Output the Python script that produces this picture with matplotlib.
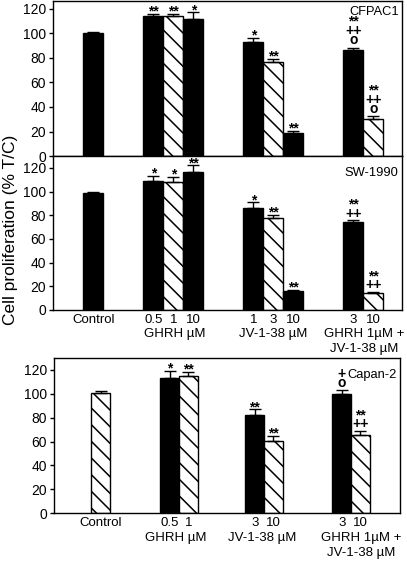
import matplotlib
matplotlib.use('Agg')
import matplotlib.pyplot as plt
import matplotlib.transforms as mtransforms

plt.rcParams['font.family'] = ['Liberation Sans', 'DejaVu Sans']
plt.rcParams['hatch.linewidth'] = 1.1

# ---- data ----
# CFPAC1 (top) and SW-1990 (middle): control, GHRH 0.5/1/10, JV 1/3/10, GHRH 1 + JV 3/10
top_labels = ['Control', '0.5', '1', '10', '1', '3', '10', '3', '10']
top_pos = [0, 3, 4, 5, 8, 9, 10, 13, 14]
top_fill = ['k', 'k', 'h', 'k', 'k', 'h', 'k', 'k', 'h']

cfpac_vals = [100, 114.5, 114, 112, 93, 77, 19, 86.5, 30.5]
cfpac_err = [1.2, 1.5, 1.8, 5.2, 3, 2, 1.5, 2, 2]
cfpac_marks = ['', '**', '**', '*', '*', '**', '**', '**\n++\no', '**\n++\no']

sw_vals = [99, 108.8, 108, 116.6, 86.3, 77.5, 15.7, 74.6, 14.3]
sw_err = [1, 4, 4.5, 5.4, 4.5, 2.8, 1.2, 1.2, 1]
sw_marks = ['', '*', '*', '**', '*', '**', '**', '**\n++', '**\n++']

# Capan-2 (bottom): control, GHRH 0.5/1, JV 3/10, GHRH 1 + JV 3/10
cap_labels = ['Control', '0.5', '1', '3', '10', '3', '10']
cap_pos = [0, 3.7, 4.7, 8.25, 9.25, 12.9, 13.9]
cap_fill = ['h', 'k', 'h', 'k', 'h', 'k', 'h']
cap_vals = [100.4, 113.3, 115, 82.4, 60.3, 99.5, 65.3]
cap_err = [1.8, 5.7, 3.6, 4.5, 4.2, 3.5, 3.9]
cap_marks = ['', '*', '**', '**', '**', '+\no', '**\n++']

group_top = [(4.05, ['GHRH µM']), (9.0, ['JV-1-38 µM']),
             (13.55, ['GHRH 1µM +', 'JV-1-38 µM'])]
group_cap = [(4.0, ['GHRH µM']), (8.65, ['JV-1-38 µM']),
             (13.95, ['GHRH 1µM +', 'JV-1-38 µM'])]

# vertical offset (points) of the mark block, by its lowest symbol
mark_off = {'*': -3.3, '+': -0.3, 'o': 0.4}


def draw_panel(ax, pos, vals, errs, fills, marks, name, ylim, xlim):
    for x, v, e, f, m in zip(pos, vals, errs, fills, marks):
        if f == 'k':
            ax.bar(x, v, width=1.0, color='black', edgecolor='black', linewidth=1)
        else:
            ax.bar(x, v, width=1.0, color='white', edgecolor='black',
                   linewidth=1, hatch='\\\\')
        ax.errorbar(x, v, yerr=[[0], [e]], fmt='none', ecolor='black',
                    elinewidth=1, capsize=4.3, capthick=1)
        if m:
            ax.annotate(m, xy=(x, v + e), xytext=(0, mark_off[m[-1]]),
                        textcoords='offset points', ha='center', va='bottom',
                        fontsize=10, fontweight='bold', linespacing=0.55)
    ax.set_ylim(*ylim)
    ax.set_xlim(*xlim)
    ax.set_yticks([0, 20, 40, 60, 80, 100, 120])
    ax.tick_params(axis='y', direction='out', length=3, width=1, labelsize=10, pad=2)
    ax.tick_params(axis='x', length=0, labelsize=9.5, pad=3)
    for sp in ax.spines.values():
        sp.set_linewidth(1)
    ax.text(0.99, 0.965 if ylim[1] < 128 else 0.93, name, transform=ax.transAxes,
            ha='right', va='top', fontsize=9.3)


def group_labels(ax, groups):
    trans = mtransforms.blended_transform_factory(ax.transData, ax.transAxes)
    for x, lines in groups:
        for i, line in enumerate(lines):
            ax.annotate(line, xy=(x, 0), xycoords=trans, xytext=(0, -17.5 - 10.8 * i),
                        textcoords='offset points', ha='center', va='center', fontsize=9.5)


fig = plt.figure(figsize=(4.07, 5.62), dpi=100)
ax1 = fig.add_axes([0.1302, 0.7224, 0.8575, 0.2758])
ax2 = fig.add_axes([0.1302, 0.4484, 0.8575, 0.2740])
ax3 = fig.add_axes([0.1327, 0.0867, 0.8501, 0.2763])

top_xlim = (-2.02, 15.43)
draw_panel(ax1, top_pos, cfpac_vals, cfpac_err, top_fill, cfpac_marks,
           'CFPAC1', (0, 126.5), top_xlim)
ax1.set_xticks([])

draw_panel(ax2, top_pos, sw_vals, sw_err, top_fill, sw_marks,
           'SW-1990', (0, 130), top_xlim)
ax2.set_xticks(top_pos)
ax2.set_xticklabels(top_labels)
group_labels(ax2, group_top)

draw_panel(ax3, cap_pos, cap_vals, cap_err, cap_fill, cap_marks,
           'Capan-2', (0, 130), (-2.49, 16.02))
ax3.set_xticks(cap_pos)
ax3.set_xticklabels(cap_labels)
group_labels(ax3, group_cap)

fig.text(0.027, 0.5916, 'Cell proliferation (% T/C)', rotation=90,
         ha='center', va='center', fontsize=12.5)

fig.savefig('out.png', dpi=100)
